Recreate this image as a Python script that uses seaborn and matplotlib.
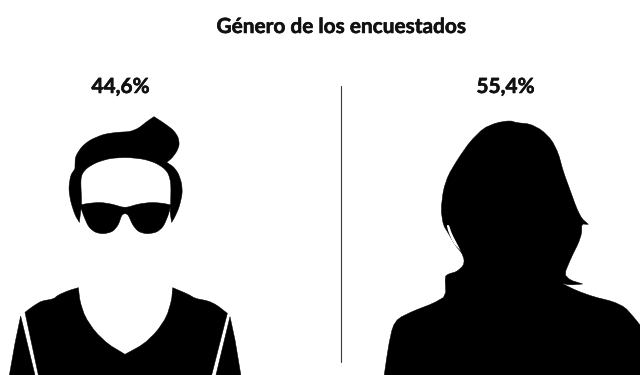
import numpy as np
import matplotlib
matplotlib.use("Agg")
import matplotlib.pyplot as plt
import matplotlib.patheffects as pe
from matplotlib.patches import Polygon
import seaborn as sns

title = "Género de los encuestados"
groups = ["Hombres", "Mujeres"]
shares = [44.6, 55.4]
label_x = [120.5, 505.5]

# Silhouette outlines, in units of 1/3 pixel relative to the (ox, oy) anchor.
# A repeated vertex keeps that corner sharp when the outline is rounded.
hair = [(225,197),(226,170),(245,140),(270,120),(310,103),(350,97),(390,95),(415,85),(440,65),(462,50),(462,50),
        (490,68),(520,90),(535,112),(538,135),(530,155),(515,175),(500,187),(500,187),(520,200),(535,220),(545,250),
        (547,280),(538,320),(525,350),(515,367),(515,367),(510,335),(512,315),(513,250),(505,220),(490,203),(465,188),
        (430,177),(380,172),(330,175),(290,187),(262,203),(247,220),(242,240),(245,310),(242,335),(238,367),(238,367),
        (225,345),(212,305),(206,265),(212,225),(225,207)]
glasses = [(240,315),(240,315),(265,310),(300,307),(335,312),(375,324),(415,312),(455,307),(490,310),(513,315),(513,315),
           (505,345),(490,380),(470,397),(440,402),(415,395),(398,375),(385,345),(375,340),(365,345),
           (355,375),(338,395),(310,402),(285,397),(265,380),(250,345)]
torso = [(235,563),(235,563),(205,572),(175,585),(160,597),(125,603),(100,618),(75,637),(75,637),(131,900),(616,900),(682,640),(682,640),
         (650,615),(625,603),(585,595),(565,583),(518,563),(518,563),(515,600),(500,650),(470,695),(430,733),(375,763),(375,763),
         (325,733),(285,695),(255,650),(240,605)]
sleeve_l = [(62,648),(123,900),(15,900),(45,730)]
sleeve_r = [(690,650),(705,720),(735,900),(630,900)]
woman = [(390,62),(410,68),(450,72),(485,90),(515,120),(535,160),(550,215),(570,270),(590,325),(605,355),
         (625,373),(625,373),(605,372),(605,400),(595,430),(575,470),(553,522),(570,540),(608,552),(608,552),(570,555),(545,550),(545,550),
         (590,572),(640,590),(700,605),(735,622),(760,650),(800,700),(800,900),(2,900),(25,740),(38,680),
         (55,655),(100,633),(160,610),(198,588),(195,530),(205,522),(230,515),(250,497),(253,480),(245,458),
         (225,435),(205,400),(190,375),(183,330),(190,270),(205,225),(235,175),(270,125),(310,85),(350,68)]
woman_slit = [(200,375),(207,375),(215,400),(242,452),(242,452),(220,430),(205,395)]


def smooth(points, rounds=2):
    """Round off a closed outline by corner cutting."""
    p = np.asarray(points, float)
    for _ in range(rounds):
        q = np.roll(p, -1, axis=0)
        p = np.column_stack([0.8 * p + 0.2 * q, 0.2 * p + 0.8 * q]).reshape(-1, 2)
    return p


def place(ax, points, ox, oy, color="black", rounds=2, blur=0.35):
    p = smooth(points, rounds) / 3 + (ox, oy)
    ax.add_patch(Polygon(p, closed=True, facecolor=color, edgecolor=color, linewidth=blur, zorder=2))


sns.set_theme(style="white")
plt.rcParams["font.family"] = ["Lato", "DejaVu Sans"]

fig, ax = plt.subplots(figsize=(6.4, 3.75), dpi=100)
ax.set_position([0, 0, 1, 1])
ax.set_xlim(0, 640)
ax.set_ylim(375, 0)
ax.axis("off")

place(ax, hair, 0, 100)
place(ax, glasses, 0, 100)
place(ax, torso, 0, 100, rounds=1)
place(ax, sleeve_l, 0, 100, rounds=0)
place(ax, sleeve_r, 0, 100, rounds=0)
place(ax, woman, 380, 100, rounds=1)
place(ax, woman_slit, 380, 100, color="white", rounds=1, blur=0)

ax.plot([341, 341], [86, 362], color="#3a3a3a", lw=0.8, zorder=1)

heavier = [pe.withStroke(linewidth=0.4, foreground="#111111")]
ax.text(342, 27, title, ha="center", va="center", fontsize=15, fontweight="bold",
        color="#111111", path_effects=heavier)
for x, share in zip(label_x, shares):
    ax.text(x, 87, f"{share:.1f}%".replace(".", ","), ha="center", va="center",
            fontsize=15, fontweight="bold", color="#111111", path_effects=heavier)

fig.savefig("out.png", dpi=100)
